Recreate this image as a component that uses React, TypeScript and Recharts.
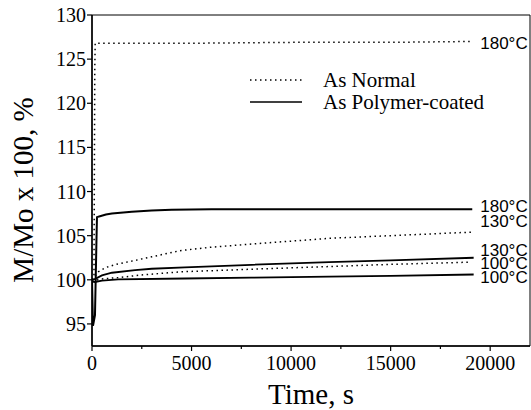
import { LineChart, Line, XAxis, YAxis, ReferenceArea, ReferenceDot, Legend } from 'recharts';

// time (s) and M/Mo x 100 (%)
const normal180T = [0, 100, 120, 140, 160, 1000, 5000, 10000, 15000, 19000];
const normal180V = [100, 100.5, 112, 124, 126.8, 126.8, 126.8, 126.9, 126.9, 127.0];

const coated180T = [0, 50, 150, 220, 250, 400, 700, 1000, 2000, 3000, 4000, 6000, 10000, 15000, 19100];
const coated180V = [100, 94.8, 96, 104, 107.1, 107.2, 107.4, 107.5, 107.7, 107.85, 107.95, 108, 108, 108, 108];

const normal130T = [0, 150, 315, 700, 1300, 2165, 3000, 4415, 6000, 8915, 11915, 15000, 19070];
const normal130V = [100, 100.4, 100.9, 101.4, 101.8, 102.2, 102.6, 103.3, 103.7, 104.2, 104.7, 105.0, 105.4];

const coated130T = [0, 165, 500, 1000, 2165, 3000, 4665, 8000, 11915, 15000, 19170];
const coated130V = [100, 100.1, 100.5, 100.8, 101.1, 101.25, 101.4, 101.7, 102.0, 102.2, 102.5];

const normal100T = [0, 165, 500, 1315, 2500, 4415, 8000, 11915, 15000, 19000];
const normal100V = [99.9, 99.95, 100.1, 100.25, 100.55, 100.9, 101.2, 101.5, 101.75, 102.0];

const coated100T = [0, 150, 500, 1315, 4665, 8000, 11915, 15000, 19170];
const coated100V = [99.8, 99.75, 99.9, 100.05, 100.15, 100.25, 100.35, 100.45, 100.6];

const xTicks = [0, 2500, 5000, 7500, 10000, 12500, 15000, 17500, 20000];
const yTicks = [92.5, 95, 97.5, 100, 102.5, 105, 107.5, 110, 112.5, 115, 117.5, 120, 122.5, 125, 127.5, 130];

// end-of-curve labels: [label, y position]
const endLabels: [string, number][] = [
  ['180°C', 126.8],
  ['180°C', 108.4],
  ['130°C', 106.6],
  ['130°C', 103.4],
  ['100°C', 101.9],
  ['100°C', 100.3],
];
const labelX = 19500;

const zip = (t: number[], v: number[]) => t.map((x, i) => ({ t: x, v: v[i] }));

const SERIF = '"Liberation Serif", "Times New Roman", serif';
const SANS = '"Liberation Sans", Arial, sans-serif';
const DOTS = '1.5 3.5';

const XTick = ({ x, y, payload }: any) => {
  const major = payload.value % 5000 === 0;
  return (
    <g>
      <line x1={x} x2={x} y1={y} y2={y + (major ? 5 : 3)} stroke="#000" strokeWidth={1.2} />
      {major && (
        <text x={x} y={y + 24} textAnchor="middle" fontFamily={SERIF} fontSize={20} fill="#000">
          {payload.value}
        </text>
      )}
    </g>
  );
};

const YTick = ({ x, y, payload }: any) => {
  const major = payload.value % 5 === 0;
  return (
    <g>
      <line x1={x} x2={x - (major ? 5 : 3)} y1={y} y2={y} stroke="#000" strokeWidth={1.2} />
      {major && (
        <text x={x - 6} y={y} dy="0.35em" textAnchor="end" fontFamily={SERIF} fontSize={20} fill="#000">
          {payload.value}
        </text>
      )}
    </g>
  );
};

const LegendBox = () => (
  <svg width={270} height={60}>
    <line x1={0} x2={52} y1={19} y2={19} stroke="#000" strokeWidth={1.5} strokeDasharray={DOTS} />
    <text x={73} y={19} dy="0.35em" fontFamily={SERIF} fontSize={21} fill="#000">As Normal</text>
    <line x1={0} x2={52} y1={41} y2={41} stroke="#000" strokeWidth={1.5} />
    <text x={73} y={41} dy="0.35em" fontFamily={SERIF} fontSize={21} fill="#000">As Polymer-coated</text>
  </svg>
);

export default function App() {
  return (
    <div style={{ position: 'absolute', left: 0, top: 0, background: '#fff' }}>
      <LineChart width={531} height={410} margin={{ top: 15, right: 1, bottom: 0, left: 0 }}>
        <XAxis
          dataKey="t"
          type="number"
          domain={[0, 22000]}
          ticks={xTicks}
          height={64}
          tickSize={0}
          tickMargin={0}
          tickLine={false}
          tick={<XTick />}
          axisLine={{ stroke: '#000', strokeWidth: 1.5 }}
          allowDataOverflow
          label={{ value: 'Time, s', position: 'insideBottom', offset: 6, fontFamily: SERIF, fontSize: 29, fill: '#000' }}
        />
        <YAxis
          dataKey="v"
          type="number"
          domain={[92.5, 130]}
          ticks={yTicks}
          width={92}
          tickSize={0}
          tickMargin={0}
          tickLine={false}
          tick={<YTick />}
          axisLine={{ stroke: '#000', strokeWidth: 1.5 }}
          allowDataOverflow
          label={{
            content: () => (
              <text
                x={23}
                y={190}
                transform="rotate(-90, 23, 190)"
                textAnchor="middle"
                dy="0.35em"
                fontFamily={SERIF}
                fontSize={29}
                fill="#000"
              >
                M/Mo x 100, %
              </text>
            ),
          }}
        />
        <ReferenceArea x1={0} x2={22000} y1={92.5} y2={130} fill="none" stroke="#000" strokeWidth={1} />
        <Legend
          layout="horizontal"
          verticalAlign="middle"
          align="center"
          content={<LegendBox />}
          wrapperStyle={{ position: 'absolute', left: 250, top: 61, width: 270, height: 60 }}
        />
        <Line data={zip(normal180T, normal180V)} dataKey="v" stroke="#000" strokeWidth={1.5} strokeDasharray={DOTS} dot={false} isAnimationActive={false} />
        <Line data={zip(coated180T, coated180V)} dataKey="v" stroke="#000" strokeWidth={2} dot={false} isAnimationActive={false} />
        <Line data={zip(normal130T, normal130V)} dataKey="v" stroke="#000" strokeWidth={1.5} strokeDasharray={DOTS} dot={false} isAnimationActive={false} />
        <Line data={zip(coated130T, coated130V)} dataKey="v" stroke="#000" strokeWidth={1.8} dot={false} isAnimationActive={false} />
        <Line data={zip(normal100T, normal100V)} dataKey="v" stroke="#000" strokeWidth={1.5} strokeDasharray={DOTS} dot={false} isAnimationActive={false} />
        <Line data={zip(coated100T, coated100V)} dataKey="v" stroke="#000" strokeWidth={1.8} dot={false} isAnimationActive={false} />
        {endLabels.map(([txt, y], i) => (
          <ReferenceDot
            key={i}
            x={labelX}
            y={y}
            r={0}
            ifOverflow="visible"
            label={{
              content: ({ viewBox }: any) => (
                <text x={viewBox.x} y={viewBox.y} dy="0.35em" fontFamily={SANS} fontSize={17} fill="#000">
                  {txt}
                </text>
              ),
            }}
          />
        ))}
      </LineChart>
    </div>
  );
}
